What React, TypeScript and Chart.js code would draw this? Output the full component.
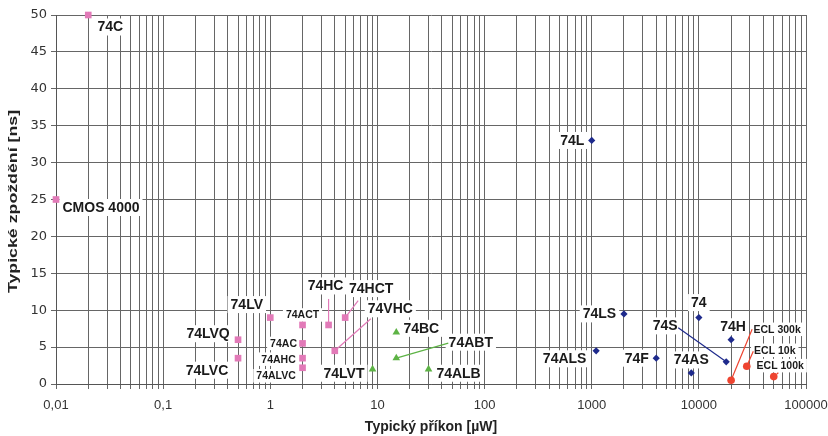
import { useEffect, useRef } from 'react';
import { Chart, registerables } from 'chart.js';

Chart.register(...registerables);

// ---- data ----
const cmosNames = ['CMOS 4000', '74C', '74LV', '74LVQ', '74LVC', '74ACT', '74AC', '74AHC', '74ALVC', '74HC', '74HCT', '74VHC'];
const cmosPower = [0.01, 0.02, 1, 0.5, 0.5, 2, 2, 2, 2, 3.5, 5, 4];
const cmosDelay = [25, 50, 9, 6, 3.5, 8, 5.5, 3.5, 2.2, 8, 9, 4.5];

const bicmosNames = ['74LVT', '74BC', '74ABT', '74ALB'];
const bicmosPower = [9, 15, 15, 30];
const bicmosDelay = [2, 7, 3.5, 2];

const ttlNames = ['74L', '74LS', '74ALS', '74F', '74', '74H', '74S', '74AS'];
const ttlPower = [1000, 2000, 1100, 4000, 10000, 20000, 18000, 8500];
const ttlDelay = [33, 9.5, 4.5, 3.5, 9, 6, 3, 1.5];

const eclNames = ['ECL 300k', 'ECL 10k', 'ECL 100k'];
const eclPower = [20000, 28000, 50000];
const eclDelay = [0.5, 2.4, 1];

const xDecades = [0.01, 0.1, 1, 10, 100, 1000, 10000, 100000];
const xTickLabels = ['0,01', '0,1', '1', '10', '100', '1000', '10000', '100000'];
const minorSteps = [1, 2, 3, 4, 5, 6, 7, 8, 9];
const yTickStep = 5;

const xTitle = 'Typický příkon [µW]';
const yTitle = 'Typické zpoždění [ns]';

// ---- label layout (pixel offsets from the point; style only) ----
type Lay = { dx: number; dy: number; size: number; leader?: [number, number]; dash?: boolean };
const cmosLayout: Lay[] = [
  { dx: 45, dy: 8, size: 14 },
  { dx: 22, dy: 12, size: 14 },
  { dx: -23.5, dy: -13, size: 14 },
  { dx: -30, dy: -6, size: 14 },
  { dx: -31, dy: 12, size: 14 },
  { dx: 0, dy: -10, size: 10.5 },
  { dx: -19, dy: 0, size: 10.5 },
  { dx: -24, dy: 1, size: 10.5 },
  { dx: -26.5, dy: 8, size: 10.5 },
  { dx: -3, dy: -39, size: 14, leader: [0, -26] },
  { dx: 26, dy: -29, size: 14, leader: [13, -17] },
  { dx: 55.5, dy: -42, size: 14, leader: [36, -32] },
];
const bicmosLayout: Lay[] = [
  { dx: -28.5, dy: 4, size: 14 },
  { dx: 25, dy: -4, size: 14 },
  { dx: 74.5, dy: -16, size: 14, leader: [52, -15] },
  { dx: 30, dy: 4, size: 14 },
];
const ttlLayout: Lay[] = [
  { dx: -19.5, dy: 0, size: 14 },
  { dx: -24.5, dy: 0, size: 14 },
  { dx: -31.5, dy: 8, size: 14 },
  { dx: -19.5, dy: 0, size: 14 },
  { dx: 0, dy: -15, size: 14 },
  { dx: 2, dy: -13, size: 14 },
  { dx: -61, dy: -36, size: 14, leader: [-48, -34] },
  { dx: 0, dy: -13, size: 14 },
];
const eclLayout: Lay[] = [
  { dx: 46, dy: -51, size: 10.5, leader: [21, -51] },
  { dx: 28, dy: -16, size: 10.5, leader: [6.5, -15] },
  { dx: 6.5, dy: -11, size: 10.5, leader: [6, -5], dash: true },
];

const FONT = "'Liberation Sans', Arial, sans-serif";
const PINK = '#E27AB8';
const GREEN = '#5DB345';
const NAVY = '#1E2A8C';
const RED = '#EE4430';

const groups = [
  { names: cmosNames, x: cmosPower, y: cmosDelay, layout: cmosLayout, color: PINK, style: 'rect', r: 4.7 },
  { names: bicmosNames, x: bicmosPower, y: bicmosDelay, layout: bicmosLayout, color: GREEN, style: 'triangle', r: 4.4 },
  { names: ttlNames, x: ttlPower, y: ttlDelay, layout: ttlLayout, color: NAVY, style: 'rectRot', r: 3.6 },
  { names: eclNames, x: eclPower, y: eclDelay, layout: eclLayout, color: RED, style: 'circle', r: 3.8 },
];

const labelPlugin = {
  id: 'pointLabels',
  beforeDatasetsDraw(chart: any) {
    const ctx = chart.ctx as CanvasRenderingContext2D;
    ctx.save();
    groups.forEach((g, di) => {
      const meta = chart.getDatasetMeta(di);
      meta.data.forEach((pt: any, i: number) => {
        const lay = g.layout[i];
        if (!lay) return;
        const text = g.names[i];
        ctx.font = `bold ${lay.size}px ${FONT}`;
        const w = ctx.measureText(text).width;
        const cx = pt.x + lay.dx;
        const cy = pt.y + lay.dy;
        const h = lay.size + 3;
        ctx.fillStyle = '#ffffff';
        ctx.fillRect(cx - w / 2 - 3, cy - h / 2, w + 6, h);
      });
    });
    groups.forEach((g, di) => {
      const meta = chart.getDatasetMeta(di);
      meta.data.forEach((pt: any, i: number) => {
        const lay = g.layout[i];
        if (!lay) return;
        if (lay.leader) {
          ctx.strokeStyle = g.color;
          ctx.lineWidth = 1.2;
          ctx.setLineDash(lay.dash ? [2, 2] : []);
          ctx.beginPath();
          ctx.moveTo(pt.x, pt.y);
          ctx.lineTo(pt.x + lay.leader[0], pt.y + lay.leader[1]);
          ctx.stroke();
          ctx.setLineDash([]);
        }
        ctx.font = `bold ${lay.size}px ${FONT}`;
        ctx.fillStyle = '#1a1a1a';
        ctx.textAlign = 'center';
        ctx.textBaseline = 'middle';
        ctx.fillText(g.names[i], pt.x + lay.dx, pt.y + lay.dy + 0.5);
      });
    });
    ctx.restore();
  },
  afterDraw(chart: any) {
    const ctx = chart.ctx as CanvasRenderingContext2D;
    const area = chart.chartArea;
    ctx.save();
    ctx.translate(14, (area.top + area.bottom) / 2 + 2);
    ctx.rotate(-Math.PI / 2);
    ctx.scale(1.42, 1);
    ctx.font = `bold 12.5px ${FONT}`;
    ctx.fillStyle = '#222';
    ctx.textAlign = 'center';
    ctx.textBaseline = 'middle';
    ctx.fillText(yTitle, 0, 0);
    ctx.restore();
  },
};

export default function App() {
  const ref = useRef<HTMLCanvasElement | null>(null);
  useEffect(() => {
    if (!ref.current) return;
    const chart = new Chart(ref.current, {
      type: 'scatter',
      data: {
        datasets: groups.map((g) => ({
          data: g.x.map((v, i) => ({ x: v, y: g.y[i] })),
          backgroundColor: g.color,
          borderColor: g.color,
          borderWidth: 0,
          pointStyle: g.style as any,
          pointRadius: g.r,
          pointHoverRadius: g.r,
          showLine: false,
          clip: false,
        })),
      },
      options: {
        responsive: false,
        animation: false,
        events: [],
        layout: { padding: { top: 15, right: 22, left: 0, bottom: 0 } },
        plugins: { legend: { display: false }, tooltip: { enabled: false }, title: { display: false } },
        scales: {
          x: {
            type: 'logarithmic',
            min: xDecades[0],
            max: xDecades[xDecades.length - 1],
            afterBuildTicks: (scale: any) => {
              const t: { value: number }[] = [];
              xDecades.forEach((d, k) => {
                if (k === xDecades.length - 1) {
                  t.push({ value: d });
                } else {
                  minorSteps.forEach((m) => t.push({ value: d * m }));
                }
              });
              scale.ticks = t;
            },
            afterFit: (scale: any) => {
              scale.height = 52;
              scale.paddingRight = 0;
              scale.paddingLeft = 0;
            },
            ticks: {
              autoSkip: false,
              maxRotation: 0,
              padding: 9,
              color: '#333',
              font: { family: FONT, size: 13 },
              callback: (value: any) => {
                const idx = xDecades.findIndex((d) => Math.abs(d - Number(value)) / d < 1e-6);
                return idx >= 0 ? xTickLabels[idx] : '';
              },
            },
            grid: {
              color: '#666',
              lineWidth: 1,
              tickLength: 5,
              drawTicks: true,
            },
            border: { display: true, color: '#555', width: 1 },
            title: {
              display: true,
              text: xTitle,
              color: '#222',
              font: { family: FONT, size: 14, weight: 'bold' },
              padding: { top: 0, bottom: 0 },
            },
          },
          y: {
            type: 'linear',
            min: 0,
            max: 50,
            afterFit: (scale: any) => {
              scale.width = 56;
              scale.paddingTop = 0;
              scale.paddingBottom = 0;
            },
            ticks: {
              stepSize: yTickStep,
              padding: 4,
              color: '#333',
              font: { family: "'DejaVu Sans', sans-serif", size: 13 },
            },
            grid: {
              color: '#666',
              lineWidth: 1,
              tickLength: 5,
            },
            border: { display: true, color: '#555', width: 1 },
            title: { display: false },
          },
        },
      },
      plugins: [labelPlugin],
    } as any);
    return () => chart.destroy();
  }, []);
  return (
    <div style={{ position: 'fixed', left: 0, top: 0, width: 828, height: 436, background: '#fff' }}>
      <canvas ref={ref} width={828} height={436} style={{ display: 'block' }} />
    </div>
  );
}
